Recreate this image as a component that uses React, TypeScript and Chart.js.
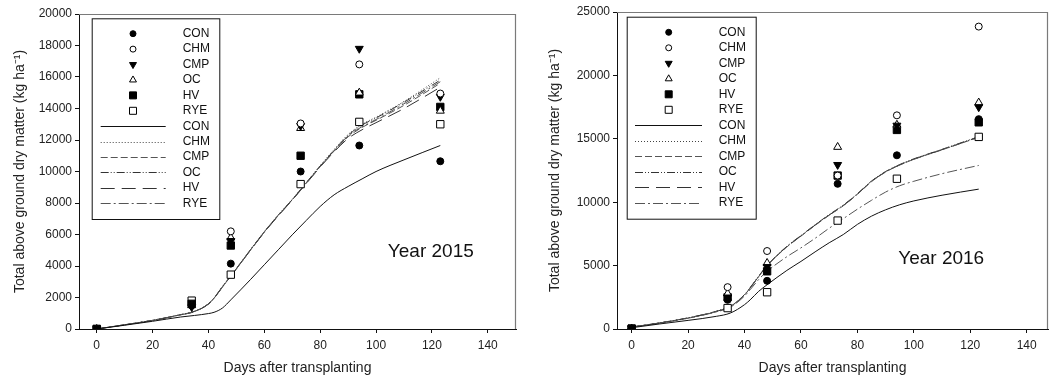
import React, { useEffect, useRef } from 'react';
import { Chart, registerables } from 'chart.js';
Chart.register(...registerables);

const FONT = "'Liberation Sans', Arial, sans-serif";

// ---------- shared ----------
const seriesNames = ['CON', 'CHM', 'CMP', 'OC', 'HV', 'RYE'];
const obsDays = [0, 34, 48, 73, 94, 123];
const simDays = [0, 10, 20, 30, 35, 40, 42, 45, 48, 55, 60, 65, 70, 75, 80, 85, 90, 95, 100, 110, 123];
const xTicks = [0, 20, 40, 60, 80, 100, 120, 140];

// ---------- 2015 observed ----------
const con2015Obs = [0, 1500, 4150, 10000, 11650, 10650];
const chm2015Obs = [0, 1500, 6200, 13050, 16800, 14950];
const cmp2015Obs = [0, 1400, 5600, 12900, 17800, 14750];
const oc2015Obs = [0, 1500, 5800, 12750, 15000, 13850];
const hv2015Obs = [0, 1600, 5300, 11000, 14900, 14100];
const rye2015Obs = [0, 1800, 3450, 9200, 13150, 13000];

// ---------- 2015 simulated ----------
const con2015Sim = [0, 240, 490, 760, 860, 980, 1060, 1330, 1850, 3130, 4080, 5030, 5980, 6890, 7780, 8520, 9050, 9530, 10000, 10740, 11650];
const chm2015Sim = [0, 270, 550, 910, 1120, 1600, 1970, 2700, 3380, 5030, 6190, 7250, 8240, 9300, 10380, 11400, 12350, 13000, 13450, 14450, 15950];
const cmp2015Sim = [0, 270, 550, 900, 1110, 1590, 1950, 2670, 3350, 5000, 6150, 7200, 8200, 9250, 10300, 11300, 12200, 12800, 13250, 14200, 15600];
const oc2015Sim = [0, 270, 550, 910, 1120, 1600, 1960, 2680, 3360, 5010, 6170, 7230, 8220, 9280, 10350, 11350, 12300, 12950, 13400, 14400, 15800];
const hv2015Sim = [0, 260, 540, 900, 1100, 1580, 1940, 2660, 3340, 4990, 6140, 7190, 8180, 9230, 10280, 11250, 12100, 12650, 13100, 14000, 15350];
const rye2015Sim = [0, 270, 550, 910, 1120, 1600, 1970, 2690, 3370, 5020, 6160, 7220, 8210, 9270, 10330, 11320, 12250, 12850, 13300, 14300, 15700];

// ---------- 2016 observed ----------
const con2016Obs = [30, 2300, 3800, 11450, 13700, 16550];
const chm2016Obs = [30, 3300, 6150, 12100, 16850, 23850];
const cmp2016Obs = [30, 2500, 4900, 12950, 16050, 17500];
const oc2016Obs = [30, 2800, 5200, 14350, 16100, 17850];
const hv2016Obs = [30, 2500, 4550, 12100, 15700, 16300];
const rye2016Obs = [30, 1650, 2900, 8550, 11850, 15150];

// ---------- 2016 simulated ----------
const con2016Sim = [100, 400, 680, 1000, 1260, 1920, 2300, 2970, 3490, 4620, 5330, 6080, 6800, 7450, 8250, 8900, 9400, 9800, 10100, 10550, 11030];
const chm2016Sim = [150, 480, 870, 1390, 1790, 2700, 3250, 4150, 5000, 6500, 7350, 8200, 9000, 9750, 10650, 11650, 12400, 12950, 13400, 14150, 15150];
const cmp2016Sim = [150, 480, 860, 1380, 1780, 2680, 3230, 4120, 4970, 6470, 7320, 8170, 8970, 9720, 10620, 11620, 12380, 12930, 13380, 14130, 15120];
const oc2016Sim = [150, 490, 880, 1400, 1800, 2720, 3270, 4170, 5020, 6520, 7370, 8220, 9020, 9770, 10670, 11670, 12420, 12970, 13420, 14170, 15170];
const hv2016Sim = [150, 480, 870, 1390, 1790, 2700, 3240, 4140, 4990, 6490, 7340, 8190, 8990, 9740, 10640, 11640, 12390, 12940, 13390, 14140, 15140];
const rye2016Sim = [150, 470, 850, 1350, 1720, 2600, 3100, 3900, 4550, 5700, 6400, 7150, 7950, 8700, 9450, 10150, 10800, 11300, 11650, 12250, 12900];

const yTicks2015 = [0, 2000, 4000, 6000, 8000, 10000, 12000, 14000, 16000, 18000, 20000];
const yTicks2016 = [0, 5000, 10000, 15000, 20000, 25000];

const yearLabel2015 = { text: 'Year 2015', x: 119.6, y: 4890 };
const yearLabel2016 = { text: 'Year 2016', x: 109.7, y: 5500 };

// ---------- styles ----------
const pointStyles = ['circle', 'circle', 'triangle', 'triangle', 'rect', 'rect'];
const pointFills = ['#000', '#fff', '#000', '#fff', '#000', '#fff'];
const pointRotations = [0, 0, 180, 0, 0, 0];
const pointRadii = [3.5, 3.5, 4.6, 4.6, 5.2, 5.2];
const lineDashes: number[][] = [[], [1, 2], [7, 3], [8, 2, 1, 2, 1, 2], [14, 7], [10, 3, 2, 3]];
const lineColors = ['#111', '#444', '#555', '#333', '#333', '#555'];

function pts(xs: number[], ys: number[]) {
  return xs.map((x, i) => ({ x, y: ys[i] }));
}

function drawMarker(ctx: CanvasRenderingContext2D, i: number, x: number, y: number) {
  ctx.save();
  ctx.fillStyle = pointFills[i];
  ctx.strokeStyle = '#000';
  ctx.lineWidth = 1;
  ctx.setLineDash([]);
  ctx.beginPath();
  if (i < 2) {
    ctx.arc(x, y, 3, 0, Math.PI * 2);
  } else if (i < 4) {
    const r = 4;
    const dir = i === 2 ? 1 : -1;
    ctx.moveTo(x, y + dir * r);
    ctx.lineTo(x - r * 0.87, y - dir * r * 0.5);
    ctx.lineTo(x + r * 0.87, y - dir * r * 0.5);
    ctx.closePath();
  } else {
    ctx.rect(x - 3.5, y - 3.5, 7, 7);
  }
  ctx.fill();
  ctx.stroke();
  ctx.restore();
}

type PanelCfg = {
  width: number;
  left: number;
  obs: number[][];
  sim: number[][];
  yTicks: number[];
  yMax: number;
  xMin: number;
  xMax: number;
  padding: { left: number; top: number; right: number; bottom: number };
  yAxisWidth: number;
  yTitlePad: number;
  legend: { boxX: number; boxY: number; boxW: number; boxH: number; row0: number; rowGap: number; markX: number; lineX0: number; lineX1: number; textX: number };
  year: { text: string; x: number; y: number };
};

function buildConfig(cfg: PanelCfg): any {
  const datasets: any[] = [];
  seriesNames.forEach((name, i) => {
    datasets.push({
      label: name + ' obs',
      data: pts(obsDays, cfg.obs[i]),
      showLine: false,
      pointStyle: pointStyles[i],
      pointRadius: pointRadii[i],
      pointRotation: pointRotations[i],
      pointBackgroundColor: pointFills[i],
      pointBorderColor: '#000',
      pointBorderWidth: 1,
    });
  });
  seriesNames.forEach((name, i) => {
    datasets.push({
      label: name + ' sim',
      data: pts(simDays, cfg.sim[i]),
      showLine: true,
      pointRadius: 0,
      borderColor: lineColors[i],
      borderWidth: 1,
      borderDash: lineDashes[i],
      tension: 0.4,
      cubicInterpolationMode: 'monotone',
      fill: false,
    });
  });

  const deco = {
    id: 'deco',
    beforeDatasetsDraw(chart: any) {
      const { ctx, chartArea: a } = chart;
      ctx.save();
      ctx.strokeStyle = '#7a7a7a';
      ctx.lineWidth = 1.2;
      ctx.beginPath();
      ctx.moveTo(a.left, a.top + 0.5);
      ctx.lineTo(a.right - 0.5, a.top + 0.5);
      ctx.lineTo(a.right - 0.5, a.bottom);
      ctx.stroke();
      ctx.restore();
    },
    afterDraw(chart: any) {
      const { ctx, chartArea: a, scales } = chart;
      const L = cfg.legend;
      ctx.save();
      ctx.fillStyle = '#fff';
      ctx.fillRect(a.left + L.boxX, a.top + L.boxY, L.boxW, L.boxH);
      ctx.strokeStyle = '#111';
      ctx.lineWidth = 1;
      ctx.strokeRect(a.left + L.boxX + 0.5, a.top + L.boxY + 0.5, L.boxW, L.boxH);
      ctx.font = `12px ${FONT}`;
      ctx.textBaseline = 'middle';
      ctx.textAlign = 'left';
      for (let r = 0; r < 12; r++) {
        const y = a.top + L.row0 + r * L.rowGap;
        const i = r % 6;
        if (r < 6) {
          drawMarker(ctx, i, a.left + L.markX, y);
        } else {
          ctx.save();
          ctx.strokeStyle = lineColors[i];
          ctx.lineWidth = 1;
          ctx.setLineDash(lineDashes[i]);
          ctx.beginPath();
          ctx.moveTo(a.left + L.lineX0, Math.round(y) + 0.5);
          ctx.lineTo(a.left + L.lineX1, Math.round(y) + 0.5);
          ctx.stroke();
          ctx.restore();
        }
        ctx.fillStyle = '#111';
        ctx.fillText(seriesNames[i], a.left + L.textX, y);
      }
      ctx.font = `19px ${FONT}`;
      ctx.textAlign = 'center';
      ctx.fillStyle = '#111';
      ctx.fillText(cfg.year.text, scales.x.getPixelForValue(cfg.year.x), scales.y.getPixelForValue(cfg.year.y));
      ctx.restore();
    },
  };

  return {
    type: 'scatter',
    data: { datasets },
    plugins: [deco],
    options: {
      animation: false,
      responsive: false,
      devicePixelRatio: 1,
      layout: { padding: cfg.padding },
      plugins: { legend: { display: false }, tooltip: { enabled: false } },
      scales: {
        x: {
          type: 'linear',
          min: cfg.xMin,
          max: cfg.xMax,
          afterBuildTicks: (s: any) => { s.ticks = xTicks.map((v) => ({ value: v })); },
          afterFit: (s: any) => { s.height = 55; },
          ticks: { font: { family: FONT, size: 12 }, color: '#222', padding: 5, callback: (v: any) => String(v) },
          grid: { drawOnChartArea: false, drawTicks: true, tickLength: 4, color: '#111' },
          border: { display: true, color: '#111', width: 1 },
          title: { display: true, text: 'Days after transplanting', font: { family: FONT, size: 14 }, color: '#222', padding: { top: 0, bottom: 7 } },
        },
        y: {
          type: 'linear',
          min: 0,
          max: cfg.yMax,
          afterBuildTicks: (s: any) => { s.ticks = cfg.yTicks.map((v) => ({ value: v })); },
          afterFit: (s: any) => { s.width = cfg.yAxisWidth; },
          ticks: { font: { family: FONT, size: 12 }, color: '#222', padding: 3, callback: (v: any) => String(v) },
          grid: { drawOnChartArea: false, drawTicks: true, tickLength: 4, color: '#111' },
          border: { display: true, color: '#111', width: 1 },
          title: { display: true, text: 'Total above ground dry matter (kg ha⁻¹)', font: { family: FONT, size: 14 }, color: '#222', padding: { top: cfg.yTitlePad, bottom: 0 } },
        },
      },
    },
  };
}

const panel2015: PanelCfg = {
  width: 530,
  left: 0,
  obs: [con2015Obs, chm2015Obs, cmp2015Obs, oc2015Obs, hv2015Obs, rye2015Obs],
  sim: [con2015Sim, chm2015Sim, cmp2015Sim, oc2015Sim, hv2015Sim, rye2015Sim],
  yTicks: yTicks2015,
  yMax: 20000,
  xMin: -6.34,
  xMax: 150.1,
  padding: { left: 0, top: 14, right: 14, bottom: 0 },
  yAxisWidth: 79,
  yTitlePad: 12,
  legend: { boxX: 12.7, boxY: 4.3, boxW: 127.6, boxH: 200.7, row0: 19.7, rowGap: 15.42, markX: 54, lineX0: 21.7, lineX1: 86.7, textX: 103.7 },
  year: yearLabel2015,
};

const panel2016: PanelCfg = {
  width: 527,
  left: 530,
  obs: [con2016Obs, chm2016Obs, cmp2016Obs, oc2016Obs, hv2016Obs, rye2016Obs],
  sim: [con2016Sim, chm2016Sim, cmp2016Sim, oc2016Sim, hv2016Sim, rye2016Sim],
  yTicks: yTicks2016,
  yMax: 25000,
  xMin: -5.2,
  xMax: 147.55,
  padding: { left: 0, top: 12, right: 9, bottom: 0 },
  yAxisWidth: 87,
  yTitlePad: 17,
  legend: { boxX: 9.7, boxY: 4.7, boxW: 129, boxH: 202, row0: 20.3, rowGap: 15.5, markX: 51.7, lineX0: 18, lineX1: 85, textX: 101.7 },
  year: yearLabel2016,
};

function Panel({ cfg }: { cfg: PanelCfg }) {
  const ref = useRef<HTMLCanvasElement>(null);
  useEffect(() => {
    const chart = new Chart(ref.current as HTMLCanvasElement, buildConfig(cfg));
    return () => chart.destroy();
  }, []);
  return (
    <canvas
      ref={ref}
      width={cfg.width}
      height={384}
      style={{ position: 'absolute', left: cfg.left, top: 0, width: cfg.width, height: 384 }}
    />
  );
}

export default function App() {
  return (
    <div style={{ position: 'absolute', left: 0, top: 0, width: 1057, height: 384, background: '#fff', overflow: 'hidden' }}>
      <Panel cfg={panel2015} />
      <Panel cfg={panel2016} />
    </div>
  );
}
